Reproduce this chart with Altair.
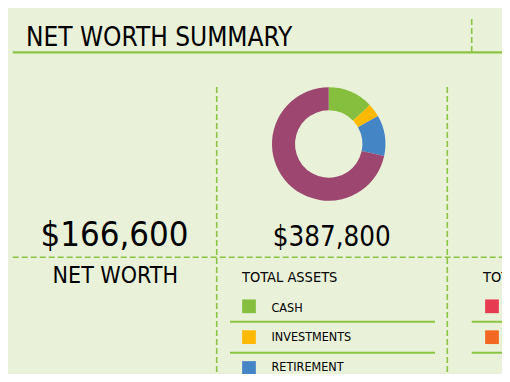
import altair as alt
import pandas as pd

# ---- data ----
asset_labels = ["CASH", "INVESTMENTS", "RETIREMENT", "PROPERTY"]
asset_values = [50000, 15000, 45000, 277800]
asset_colors = ["#86BF3E", "#FFB900", "#4485C6", "#9C4670"]
legend_labels = ["CASH", "INVESTMENTS", "RETIREMENT"]
liability_labels = ["MORTGAGE", "LOANS"]
liability_colors = ["#E63B50", "#F26722"]
total_liabilities = 221200

total_assets = sum(asset_values)
net_worth = total_assets - total_liabilities

assets_df = pd.DataFrame({"label": asset_labels, "value": asset_values,
                          "idx": list(range(len(asset_labels)))})
legend_df = pd.DataFrame({"label": legend_labels})
liab_df = pd.DataFrame({"label": liability_labels})

GREEN = "#8BC443"
FONT = "DejaVu Sans Condensed, DejaVu Sans"
W, H = 494, 366
OX, OY = 8, 8  # page margin offset: chart coords = reference px - 8

def X(v):
    return v - OX

def Y(v):
    return v - OY

base = alt.Chart(pd.DataFrame({"a": [0]}))

def rule(x1, y1, x2, y2, dash=None, width=2.0):
    kw = dict(color=GREEN, strokeWidth=width)
    if dash:
        kw["strokeDash"] = dash
    return base.mark_rule(**kw).encode(
        x=alt.value(X(x1)), y=alt.value(Y(y1)),
        x2=alt.value(X(x2)), y2=alt.value(Y(y2)))

def text(s, x, y, size, align="left"):
    return base.mark_text(text=s, font=FONT, fontSize=size, align=align,
                          baseline="alphabetic", color="#000000").encode(
        x=alt.value(X(x)), y=alt.value(Y(y)))

dash = [6, 3]
lines = [
    rule(12.7, 52.3, 518, 52.3, width=2.3),
    rule(471.7, 19, 471.7, 52, dash=dash, width=1.6),
    rule(216.7, 87, 216.7, 390, dash=dash, width=1.6),
    rule(447.3, 87, 447.3, 390, dash=dash, width=1.6),
    rule(12.7, 257.3, 518, 257.3, dash=dash, width=1.6),
    rule(230, 321.7, 435, 321.7, width=2),
    rule(230, 352.7, 435, 352.7, width=2),
    rule(471.7, 321.7, 518, 321.7, width=2),
    rule(471.7, 352.7, 518, 352.7, width=2),
]

donut = alt.Chart(assets_df).mark_arc(innerRadius=33.7, outerRadius=56.7).encode(
    theta=alt.Theta("value:Q", stack=True),
    order=alt.Order("idx:Q"),
    color=alt.Color("label:N", scale=alt.Scale(domain=asset_labels, range=asset_colors),
                    legend=None),
    x=alt.value(X(328.7)), y=alt.value(Y(144)),
)

row_scale = alt.Scale(type="point", domain=legend_labels, range=[Y(306.3), Y(368)], padding=0)
label_scale = alt.Scale(type="point", domain=legend_labels, range=[Y(306.3), Y(365.6)], padding=0)
squares = alt.Chart(legend_df).mark_square(size=188, opacity=1).encode(
    x=alt.value(X(249)),
    y=alt.Y("label:N", scale=row_scale, axis=None),
    color=alt.Color("label:N", scale=alt.Scale(domain=asset_labels, range=asset_colors),
                    legend=None),
)
labels = alt.Chart(legend_df).mark_text(font=FONT, fontSize=12.5, align="left",
                                        baseline="alphabetic", dy=5.4, color="#000").encode(
    x=alt.value(X(271.5)),
    y=alt.Y("label:N", scale=label_scale, axis=None),
    text="label:N",
)

liab_scale = alt.Scale(type="point", domain=liability_labels, range=[Y(306.3), Y(337.2)], padding=0)
liab_squares = alt.Chart(liab_df).mark_square(size=188, opacity=1).encode(
    x=alt.value(X(492)),
    y=alt.Y("label:N", scale=liab_scale, axis=None),
    color=alt.Color("label:N", scale=alt.Scale(domain=liability_labels, range=liability_colors),
                    legend=None),
)

texts = [
    text("NET WORTH SUMMARY", 26, 45.8, 26),
    text(f"${net_worth:,.0f}", 114.5, 245.6, 34.5, align="center"),
    text("NET WORTH", 115.3, 283.3, 23, align="center"),
    text(f"${total_assets:,.0f}", 331.8, 245.7, 27.5, align="center"),
    text("TOTAL ASSETS", 242, 282.3, 14.5),
    text("TOTAL LIABILITIES", 483, 282.3, 14.5),
]

chart = alt.layer(*lines, donut, squares, labels, liab_squares, *texts).resolve_scale(
    color="independent", y="independent"
).properties(
    width=W, height=H, padding=0, background="#E9F2D9",
    autosize=alt.AutoSizeParams(type="none"),
).configure_view(stroke=None)

chart.save("out.html", embed_options={"renderer": "svg", "actions": False})
